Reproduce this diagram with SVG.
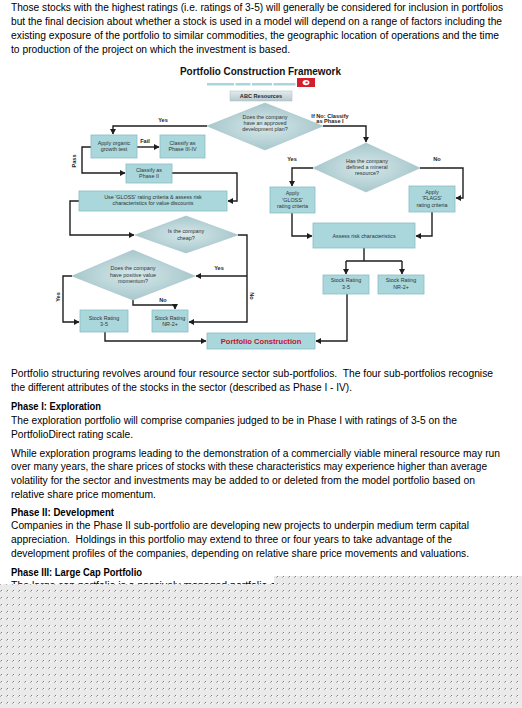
<svg xmlns="http://www.w3.org/2000/svg" width="522" height="708" viewBox="0 0 522 708">
<defs>
<style>
.body{font-family:"Liberation Sans",Arial,sans-serif;font-size:10px;fill:#000}
.bold{font-weight:bold}
.fc{font-family:"Liberation Sans",Arial,sans-serif;font-size:5.4px;fill:#333;text-anchor:middle}
.lbl{font-family:"Liberation Sans",Arial,sans-serif;font-size:5.6px;font-weight:bold;fill:#222;text-anchor:middle}
.box{fill:#a9d7dc;stroke:#8abdc3;stroke-width:0.8}
.dia{fill:url(#dg);stroke:#a4c3c7;stroke-width:0.6}
.con{fill:none;stroke:#1e1e1e;stroke-width:1.4}
.arr{marker-end:url(#ah)}
</style>
<marker id="ah" markerUnits="userSpaceOnUse" markerWidth="6" markerHeight="6" refX="5" refY="3" orient="auto">
<path d="M0,0 L5.5,3 L0,6 Z" fill="#1e1e1e"/>
</marker>
<radialGradient id="dg" cx="0.5" cy="0.5" r="0.6">
<stop offset="0" stop-color="#d6e8ea"/>
<stop offset="1" stop-color="#9ec1c6"/>
</radialGradient>
<linearGradient id="abc" x1="0" y1="0" x2="0" y2="1">
<stop offset="0" stop-color="#e4ecee"/>
<stop offset="1" stop-color="#b6c9cd"/>
</linearGradient>
<pattern id="dots" patternUnits="userSpaceOnUse" width="6" height="7">
<rect width="6" height="7" fill="#eaeaea"/>
<rect x="1" y="2" width="1" height="1" fill="#7e7e7e"/>
<rect x="2" y="3" width="1" height="1" fill="#ffffff"/>
<rect x="0" y="3" width="1" height="1" fill="#b0b0b0"/>
</pattern>
</defs>
<rect width="522" height="708" fill="#ffffff"/>

<g id="intro-text">
<text class="body" x="11" y="11.2" textLength="492" lengthAdjust="spacingAndGlyphs">Those stocks with the highest ratings (i.e. ratings of 3-5) will generally be considered for inclusion in portfolios</text>
<text class="body" x="11" y="25.2" textLength="491" lengthAdjust="spacingAndGlyphs">but the final decision about whether a stock is used in a model will depend on a range of factors including the</text>
<text class="body" x="11" y="39.2" textLength="488" lengthAdjust="spacingAndGlyphs">existing exposure of the portfolio to similar commodities, the geographic location of operations and the time</text>
<text class="body" x="11" y="53.2" textLength="279" lengthAdjust="spacingAndGlyphs">to production of the project on which the investment is based.</text>
</g>

<g id="title">
<text x="180" y="75" textLength="161" lengthAdjust="spacingAndGlyphs" style="font-family:'Liberation Sans',Arial,sans-serif;font-size:10.4px;font-weight:bold;fill:#111">Portfolio Construction Framework</text>
<rect x="207" y="83" width="27" height="2.5" fill="#a9d6de"/>
<rect x="235.5" y="83" width="15" height="2.5" fill="#a9d6de"/>
<rect x="252" y="83" width="20" height="2.5" fill="#a9d6de"/>
<rect x="273.5" y="83" width="22" height="2.5" fill="#a9d6de"/>
<rect x="297" y="78" width="18" height="9" fill="#d21f2b"/>
<ellipse cx="306" cy="82.6" rx="3.4" ry="2.6" fill="#ffffff"/>
<ellipse cx="306.6" cy="82.4" rx="1.2" ry="0.9" fill="#d21f2b"/>
</g>

<g id="abc-resources">
<rect x="230" y="91" width="62" height="10" fill="url(#abc)" stroke="#a9bcc0" stroke-width="0.5"/>
<text x="261" y="98.2" style="font-family:'Liberation Sans',Arial,sans-serif;font-size:5.6px;font-weight:bold;fill:#2a2a2a;text-anchor:middle">ABC Resources</text>
</g>

<g id="connectors">
<path class="con arr" d="M207,126 H113 V134"/>
<path class="con arr" d="M137,147 H159"/>
<path class="con arr" d="M91,147 H82 V173 H125"/>
<path class="con arr" d="M172,173 H237 V201 H228"/>
<path class="con arr" d="M79,201 H70 V235 H134"/>
<path class="con arr" d="M238,235 H247 V322 H189"/>
<path class="con arr" d="M247,276 H196"/>
<path class="con arr" d="M72,276 H63 V322 H79"/>
<path class="con arr" d="M133,300 V305 H175 V309"/>
<path class="con arr" d="M105,332 V341 H206"/>
<path class="con arr" d="M347,294 V341 H316"/>
<path class="con arr" d="M323,126 H366 V142"/>
<path class="con arr" d="M313,168 H292 V186"/>
<path class="con arr" d="M420,168 H463 V198 H456"/>
<path class="con arr" d="M292,213 V236 H312"/>
<path class="con arr" d="M432,212 V236 H416"/>
<path class="con" d="M364,248 V261 M346,261 H402"/>
<path class="con arr" d="M346,261 V274"/>
<path class="con arr" d="M402,261 V274"/>
<text class="lbl" x="163" y="122">Yes</text>
<text class="lbl" x="145" y="142.5">Fail</text>
<text class="lbl" transform="translate(75.5,161) rotate(-90)">Pass</text>
<text class="lbl" x="219" y="270">Yes</text>
<text class="lbl" transform="translate(250,296) rotate(90)">No</text>
<text class="lbl" transform="translate(59.5,297) rotate(-90)">Yes</text>
<text class="lbl" x="163" y="302">No</text>
<text class="lbl" x="330" y="117.5">If No: Classify</text>
<text class="lbl" x="330" y="123">as Phase I</text>
<text class="lbl" x="292" y="161">Yes</text>
<text class="lbl" x="437" y="161">No</text>
</g>

<g id="approved-plan">
<polygon class="dia" points="265,103 323,126 265,150 207,126"/>
<text class="fc" x="265" y="119">Does the company</text>
<text class="fc" x="265" y="125">have an approved</text>
<text class="fc" x="265" y="131">development plan?</text>
</g>

<g id="organic-growth">
<rect class="box" x="91" y="135" width="46" height="23"/>
<text class="fc" x="114" y="145">Apply organic</text>
<text class="fc" x="114" y="151">growth test</text>
</g>

<g id="phase-3-4">
<rect class="box" x="160" y="135" width="45" height="23"/>
<text class="fc" x="182.5" y="145">Classify as</text>
<text class="fc" x="182.5" y="151">Phase III-IV</text>
</g>

<g id="phase-2">
<rect class="box" x="126" y="164" width="46" height="19"/>
<text class="fc" x="149" y="172">Classify as</text>
<text class="fc" x="149" y="178">Phase II</text>
</g>

<g id="gloss-discounts">
<rect class="box" x="79" y="191" width="148" height="20"/>
<text class="fc" x="153" y="198.5">Use 'GLOSS' rating criteria &amp; assess risk</text>
<text class="fc" x="153" y="205">characteristics for value discounts</text>
</g>

<g id="cheap">
<polygon class="dia" points="186,216 238,235 186,253 135,235"/>
<text class="fc" x="186" y="233">Is the company</text>
<text class="fc" x="186" y="240">cheap?</text>
</g>

<g id="momentum">
<polygon class="dia" points="133,250 195,276 133,300 72,276"/>
<text class="fc" x="133" y="270">Does the company</text>
<text class="fc" x="133" y="276.5">have positive value</text>
<text class="fc" x="133" y="283">momentum?</text>
</g>

<g id="rating-left-3-5">
<rect class="box" x="80" y="310" width="48" height="22"/>
<text class="fc" x="104" y="319.5">Stock Rating</text>
<text class="fc" x="104" y="326">3-5</text>
</g>

<g id="rating-left-nr">
<rect class="box" x="152" y="310" width="36" height="22"/>
<text class="fc" x="170" y="319.5">Stock Rating</text>
<text class="fc" x="170" y="326">NR-2+</text>
</g>

<g id="mineral-resource">
<polygon class="dia" points="366,143 420,168 366,192 313,168"/>
<text class="fc" x="367" y="163">Has the company</text>
<text class="fc" x="367" y="169">defined a mineral</text>
<text class="fc" x="367" y="175">resource?</text>
</g>

<g id="apply-gloss">
<rect class="box" x="270" y="187" width="45" height="26"/>
<text class="fc" x="292.5" y="195">Apply</text>
<text class="fc" x="292.5" y="201.5">'GLOSS'</text>
<text class="fc" x="292.5" y="208">rating criteria</text>
</g>

<g id="apply-flags">
<rect class="box" x="409" y="186" width="46" height="26"/>
<text class="fc" x="432" y="193.5">Apply</text>
<text class="fc" x="432" y="200">'FLAGS'</text>
<text class="fc" x="432" y="206.5">rating criteria</text>
</g>

<g id="assess-risk">
<rect class="box" x="313" y="223" width="102" height="25"/>
<text class="fc" x="364" y="237.5">Assess risk characteristics</text>
</g>

<g id="rating-right-3-5">
<rect class="box" x="323" y="275" width="46" height="19"/>
<text class="fc" x="346" y="282">Stock Rating</text>
<text class="fc" x="346" y="288.5">3-5</text>
</g>

<g id="rating-right-nr">
<rect class="box" x="378" y="275" width="46" height="19"/>
<text class="fc" x="401" y="282">Stock Rating</text>
<text class="fc" x="401" y="288.5">NR-2+</text>
</g>

<g id="portfolio-construction">
<rect class="box" x="207" y="333" width="108" height="16"/>
<text x="261" y="344" style="font-family:'Liberation Sans',Arial,sans-serif;font-size:7.6px;font-weight:bold;fill:#c8102e;text-anchor:middle">Portfolio Construction</text>
</g>

<g id="body-text">
<text class="body" x="11" y="377" textLength="482" lengthAdjust="spacingAndGlyphs">Portfolio structuring revolves around four resource sector sub-portfolios.&#160; The four sub-portfolios recognise</text>
<text class="body" x="11" y="390.8" textLength="341" lengthAdjust="spacingAndGlyphs">the different attributes of the stocks in the sector (described as Phase I - IV).</text>
<text class="body bold" x="11" y="410.3" textLength="90" lengthAdjust="spacingAndGlyphs">Phase I: Exploration</text>
<text class="body" x="11" y="424" textLength="446" lengthAdjust="spacingAndGlyphs">The exploration portfolio will comprise companies judged to be in Phase I with ratings of 3-5 on the</text>
<text class="body" x="11" y="437.7" textLength="122" lengthAdjust="spacingAndGlyphs">PortfolioDirect rating scale.</text>
<text class="body" x="11" y="456.6" textLength="489" lengthAdjust="spacingAndGlyphs">While exploration programs leading to the demonstration of a commercially viable mineral resource may run</text>
<text class="body" x="11" y="470.3" textLength="476" lengthAdjust="spacingAndGlyphs">over many years, the share prices of stocks with these characteristics may experience higher than average</text>
<text class="body" x="11" y="484" textLength="464" lengthAdjust="spacingAndGlyphs">volatility for the sector and investments may be added to or deleted from the model portfolio based on</text>
<text class="body" x="11" y="497.7" textLength="145" lengthAdjust="spacingAndGlyphs">relative share price momentum.</text>
<text class="body bold" x="11" y="515.7" textLength="103" lengthAdjust="spacingAndGlyphs">Phase II: Development</text>
<text class="body" x="11" y="529.4" textLength="458" lengthAdjust="spacingAndGlyphs">Companies in the Phase II sub-portfolio are developing new projects to underpin medium term capital</text>
<text class="body" x="11" y="543.1" textLength="441" lengthAdjust="spacingAndGlyphs">appreciation.&#160; Holdings in this portfolio may extend to three or four years to take advantage of the</text>
<text class="body" x="11" y="556.8" textLength="458" lengthAdjust="spacingAndGlyphs">development profiles of the companies, depending on relative share price movements and valuations.</text>
<text class="body bold" x="11" y="575.5" textLength="131" lengthAdjust="spacingAndGlyphs">Phase III: Large Cap Portfolio</text>
<text class="body" x="11" y="589" textLength="268" lengthAdjust="spacingAndGlyphs">The large cap portfolio is a passively managed portfolio of</text>
</g>

<path id="dotted-overlay" d="M274,576 H522 V708 H0 V584 H274 Z" fill="url(#dots)"/>
</svg>
